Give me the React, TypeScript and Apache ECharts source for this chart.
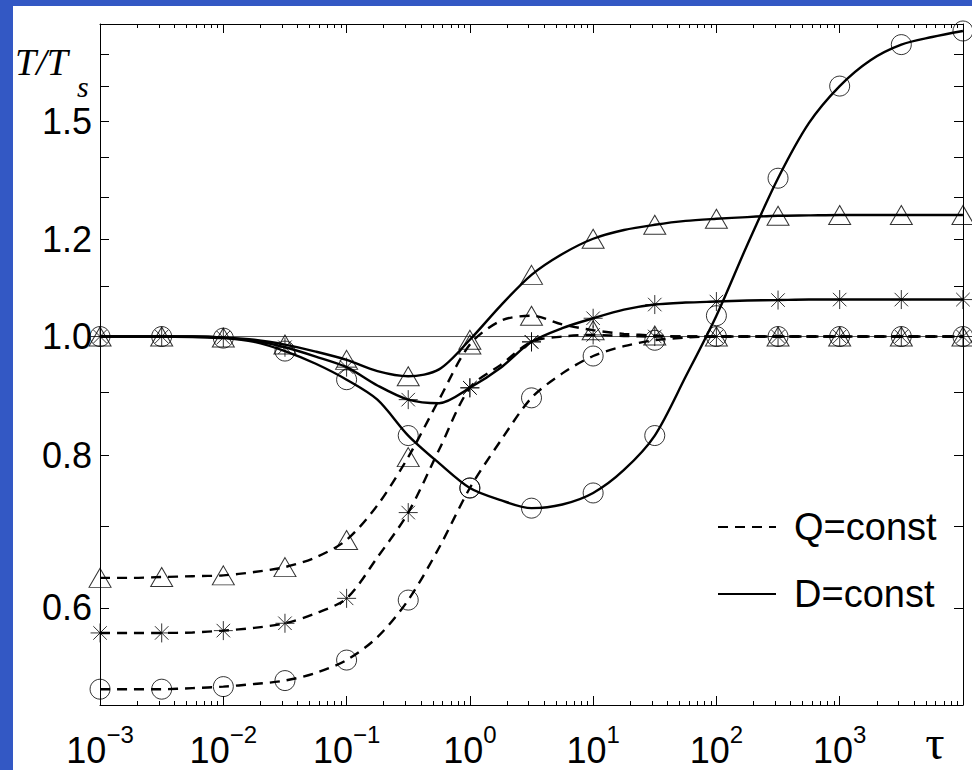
import React, { useEffect, useRef } from 'react';
import * as echarts from 'echarts';

// ---------- data ----------
// tau sampled every quarter decade (exponents of 10)
const tauExponents = [
  -3, -2.75, -2.5, -2.25, -2, -1.75, -1.5, -1.25, -1, -0.75, -0.5, -0.25, 0, 0.25, 0.5,
  0.75, 1, 1.25, 1.5, 1.75, 2, 2.25, 2.5, 2.75, 3, 3.25, 3.5, 3.75, 4,
];

// Q = const (dashed)
const qCircle = [
  0.515, 0.515, 0.515, 0.516, 0.5175, 0.52, 0.5234, 0.531, 0.544, 0.568, 0.609, 0.672, 0.752, 0.822, 0.891,
  0.933, 0.964, 0.982, 0.993, 0.998, 1.0, 1.0, 1.0, 1.0, 1.0, 1.0, 1.0, 1.0, 1.0,
];
const qStar = [
  0.5725, 0.5725, 0.5725, 0.573, 0.575, 0.578, 0.583, 0.594, 0.611, 0.66, 0.718, 0.808, 0.908, 0.948, 0.99,
  1.0, 1.003, 1.001, 1.0, 1.0, 1.0, 1.0, 1.0, 1.0, 1.0, 1.0, 1.0, 1.0, 1.0,
];
const qTriangle = [
  0.635, 0.635, 0.636, 0.637, 0.638, 0.642, 0.648, 0.66, 0.682, 0.728, 0.797, 0.888, 0.985, 1.03, 1.04,
  1.023, 1.012, 1.005, 1.002, 1.0, 1.0, 1.0, 1.0, 1.0, 1.0, 1.0, 1.0, 1.0, 1.0,
];

// D = const (solid)
const dCircle = [
  1.0, 1.0, 1.0, 0.999, 0.997, 0.99, 0.973, 0.95, 0.922, 0.888, 0.83, 0.788, 0.752, 0.735, 0.724,
  0.729, 0.745, 0.778, 0.83, 0.927, 1.04, 1.188, 1.347, 1.494, 1.602, 1.682, 1.732, 1.757, 1.777,
];
const dStar = [
  1.0, 1.0, 1.0, 1.0, 0.998, 0.992, 0.98, 0.963, 0.944, 0.912, 0.888, 0.882, 0.908, 0.943, 0.99,
  1.016, 1.035, 1.052, 1.062, 1.066, 1.068, 1.07, 1.071, 1.072, 1.072, 1.072, 1.072, 1.072, 1.072,
];
const dTriangle = [
  1.0, 1.0, 1.0, 1.0, 0.998, 0.994, 0.985, 0.972, 0.957, 0.937, 0.928, 0.94, 0.994, 1.06, 1.123,
  1.168, 1.202, 1.222, 1.234, 1.243, 1.248, 1.252, 1.255, 1.256, 1.257, 1.257, 1.257, 1.257, 1.257,
];

const referenceValue = 1.0;

// axis ticks / labels
const xDecades = [1e-3, 1e-2, 1e-1, 1, 10, 100, 1000, 10000];
const xLabelValues = [1e-3, 1e-2, 1e-1, 1, 10, 100, 1000];
const xMinorMultipliers = [2, 3, 4, 5, 6, 7, 8, 9];
const yTickValues = [0.6, 0.7, 0.8, 0.9, 1.0, 1.1, 1.2, 1.3, 1.4, 1.5, 1.6, 1.7];
const yLabelValues = [0.6, 0.8, 1.0, 1.2, 1.5];

const legendNames = ['Q=const', 'D=const'];

// ---------- styling ----------
const FONT = '"Liberation Sans", Arial, Helvetica, sans-serif';
const SERIF = '"Liberation Serif", "Times New Roman", serif';
const BLUE = '#3358C4';
const DASH = [10, 7];
const LW = 2.4;

const tau = tauExponents.map((e) => Math.pow(10, e));
const xMinorTicks: number[] = [];
xDecades.slice(0, -1).forEach((d) => xMinorMultipliers.forEach((m) => xMinorTicks.push(d * m)));

const X_MIN = 0.000999;
const X_MAX = 10010;
const Y_MIN = 0.4999;
const Y_MAX = 1.8005;

function curve(name: string, values: number[], dashed: boolean) {
  return {
    type: 'line',
    name,
    data: tau.map((t, i) => [t, values[i]]),
    smooth: 0.3,
    symbol: 'none',
    silent: true,
    z: 3,
    lineStyle: { color: '#000', width: LW, type: dashed ? DASH : 'solid' },
  };
}

const STAR = 'path://M10,0L10,20M0,10L20,10M2.9,2.9L17.1,17.1M17.1,2.9L2.9,17.1';

function markers(name: string, values: number[], symbol: string, size: any) {
  return {
    type: 'scatter',
    name,
    data: tau.map((t, i) => [t, values[i]]).filter((_, i) => i % 2 === 0),
    symbol,
    symbolSize: size,
    clip: false,
    silent: true,
    z: 4,
    itemStyle: { color: 'rgba(0,0,0,0)', borderColor: '#000', borderWidth: 1 },
  };
}

function xAxisDef(position: 'top' | 'bottom', ticks: number[], len: number, showLine: boolean, labels: boolean) {
  return {
    type: 'log',
    logBase: 10,
    min: X_MIN,
    max: X_MAX,
    position,
    gridIndex: 0,
    splitLine: { show: false },
    axisLine: { show: showLine, onZero: false, lineStyle: { color: '#000', width: 1 } },
    axisTick: { show: true, inside: true, length: len, customValues: ticks, lineStyle: { color: '#000', width: 1 } },
    axisLabel: labels
      ? {
          show: true,
          customValues: xLabelValues,
          margin: 25,
          formatter: (v: number) => {
            const e = Math.round(Math.log10(v));
            return `{b|10}{s|${e < 0 ? '\u2212' : ''}${Math.abs(e)}}`;
          },
          rich: {
            b: { fontFamily: FONT, fontSize: 36, lineHeight: 40, color: '#000' },
            s: { fontFamily: FONT, fontSize: 24, lineHeight: 40, color: '#000', padding: [0, 0, 32, 0] },
          },
        }
      : { show: false },
  };
}

function yAxisDef(position: 'left' | 'right', labels: boolean) {
  return {
    type: 'log',
    logBase: 10,
    min: Y_MIN,
    max: Y_MAX,
    position,
    splitLine: { show: false },
    axisLine: { show: true, onZero: false, lineStyle: { color: '#000', width: 1 } },
    axisTick: { show: true, inside: true, length: 9, customValues: yTickValues, lineStyle: { color: '#000', width: 1 } },
    axisLabel: labels
      ? {
          show: true,
          customValues: yLabelValues,
          margin: 8,
          formatter: (v: number) => v.toFixed(1),
          fontFamily: FONT,
          fontSize: 36,
          color: '#000',
        }
      : { show: false },
  };
}

export default function App() {
  const ref = useRef<HTMLDivElement>(null);

  useEffect(() => {
    const el = ref.current;
    if (!el) return;
    const chart = echarts.init(el, null, { renderer: 'svg' });

    const option: any = {
      animation: false,
      backgroundColor: '#ffffff',
      grid: { left: 100, top: 24, width: 863, height: 681, containLabel: false, outerBoundsMode: 'none' },
      xAxis: [
        xAxisDef('bottom', xDecades, 9, true, true),
        xAxisDef('bottom', xMinorTicks, 4, false, false),
        xAxisDef('top', xDecades, 9, true, false),
        xAxisDef('top', xMinorTicks, 4, false, false),
      ],
      yAxis: [yAxisDef('left', true), yAxisDef('right', false)],
      legend: {
        data: legendNames,
        orient: 'vertical',
        left: 717,
        top: 507,
        padding: 0,
        itemWidth: 58,
        itemHeight: 14,
        itemGap: 27,
        selectedMode: false,
        itemStyle: { color: 'rgba(0,0,0,0)', borderColor: 'rgba(0,0,0,0)', borderWidth: 0, opacity: 0 },
        textStyle: { fontFamily: FONT, fontSize: 38, color: '#000', lineHeight: 40, padding: [0, 0, 0, 13] },
      },
      series: [
        {
          type: 'line',
          name: 'reference',
          data: [
            [X_MIN, referenceValue],
            [X_MAX, referenceValue],
          ],
          symbol: 'none',
          silent: true,
          z: 2,
          lineStyle: { color: '#555', width: 1 },
        },
        curve('Q circle', qCircle, true),
        curve('Q star', qStar, true),
        curve('Q triangle', qTriangle, true),
        curve('D circle', dCircle, false),
        curve('D star', dStar, false),
        curve('D triangle', dTriangle, false),
        markers('Q circle m', qCircle, 'circle', 20),
        markers('Q star m', qStar, STAR, 19),
        markers('Q triangle m', qTriangle, 'triangle', [22, 19]),
        markers('D circle m', dCircle, 'circle', 20),
        markers('D star m', dStar, STAR, 19),
        markers('D triangle m', dTriangle, 'triangle', [22, 19]),
        {
          type: 'line',
          name: legendNames[0],
          data: [],
          symbol: 'none',
          itemStyle: { color: '#000' },
          lineStyle: { color: '#000', width: LW, type: DASH },
        },
        {
          type: 'line',
          name: legendNames[1],
          data: [],
          symbol: 'none',
          itemStyle: { color: '#000' },
          lineStyle: { color: '#000', width: LW, type: 'solid' },
        },
      ],
      graphic: [
        { type: 'rect', silent: true, shape: { x: 0, y: 0, width: 13, height: 770 }, style: { fill: BLUE } },
        { type: 'rect', silent: true, shape: { x: 0, y: 0, width: 972, height: 6 }, style: { fill: BLUE } },
        {
          type: 'text',
          silent: true,
          x: 15,
          y: 62,
          style: {
            text: 'T/T',
            fill: '#000',
            fontFamily: SERIF,
            fontStyle: 'italic',
            fontSize: 38,
            align: 'left',
            verticalAlign: 'middle',
          },
        },
        {
          type: 'text',
          silent: true,
          x: 77,
          y: 86,
          style: {
            text: 's',
            fill: '#000',
            fontFamily: SERIF,
            fontStyle: 'italic',
            fontSize: 30,
            align: 'left',
            verticalAlign: 'middle',
          },
        },
        {
          type: 'text',
          silent: true,
          x: 935,
          y: 742,
          style: {
            text: '\u03C4',
            fill: '#000',
            fontFamily: SERIF,
            fontSize: 48,
            align: 'center',
            verticalAlign: 'middle',
          },
        },
      ],
    };

    chart.setOption(option);
    return () => chart.dispose();
  }, []);

  return (
    <div
      ref={ref}
      style={{ position: 'fixed', left: 0, top: 0, width: 972, height: 770 }}
    />
  );
}
